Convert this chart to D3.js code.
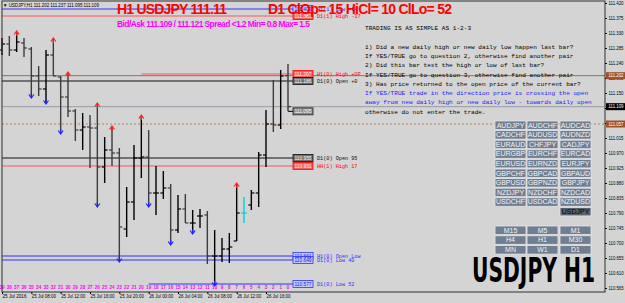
<!DOCTYPE html>
<html>
<head>
<meta charset="utf-8">
<script src="https://cdn.jsdelivr.net/npm/d3@7"></script>
<style>
  body { margin: 0; background: #d4d4d4; }
  svg { display: block; }
</style>
</head>
<body>
<div id="canvas"></div>
<script>
// bar numbers, oldest (39) to current (0)
const barNo = [39,38,37,36,35,34,33,32,31,30,29,28,27,26,25,24,23,22,21,20,19,18,17,16,15,14,13,12,11,10,9,8,7,6,5,4,3,2,1,0];
const opens  = [111.279,111.297,111.279,111.300,111.282,111.201,111.162,111.264,111.198,111.138,111.096,111.039,111.048,111.045,110.928,110.979,110.970,110.742,110.823,110.955,110.958,110.850,110.850,110.865,110.739,110.802,110.760,110.781,110.784,110.661,110.661,110.682,110.706,110.790,110.814,110.850,110.964,111.057,111.054,111.202];
const highs  = [111.315,111.321,111.330,111.315,111.288,111.231,111.279,111.309,111.201,111.207,111.102,111.090,111.084,111.114,111.018,111.045,110.985,110.868,110.994,111.078,111.039,110.931,110.916,110.877,110.844,110.847,110.799,110.802,110.796,110.739,110.715,110.730,110.874,110.838,110.859,110.973,111.099,111.189,111.219,111.237];
const lows   = [111.264,111.261,111.273,111.258,111.141,111.141,111.123,111.201,111.033,111.078,111.006,110.979,110.925,110.814,110.880,110.931,110.649,110.718,110.769,110.895,110.814,110.784,110.832,110.700,110.730,110.760,110.733,110.745,110.637,110.577,110.643,110.640,110.706,110.760,110.799,110.808,110.928,111.033,111.042,111.095];
const closes = [111.297,111.279,111.303,111.285,111.201,111.162,111.264,111.201,111.138,111.096,111.039,111.048,111.045,110.928,110.979,110.970,110.748,110.823,110.955,110.958,110.850,110.850,110.865,110.739,110.802,110.760,110.760,110.781,110.661,110.661,110.682,110.688,110.790,110.790,110.850,110.964,111.057,111.054,111.201,111.109];

const upArrowBars   = [37, 32, 30, 26, 24, 20, 7];
const downArrowBars = [35, 33, 31, 26, 23, 19, 16, 13, 10];
const cyanBar = 6;

const priceTicks = [111.420,111.375,111.330,111.285,111.240,111.195,111.150,111.105,111.060,111.015,110.970,110.925,110.880,110.835,110.790,110.745,110.700,110.655,110.610,110.565];
const dateBars   = [39, 35, 31, 27, 23, 19, 15, 11, 7, 3];
const dateLabels = ["25 Jul 2016","25 Jul 08:00","25 Jul 12:00","25 Jul 16:00","25 Jul 20:00","26 Jul 00:00","26 Jul 04:00","26 Jul 08:00","26 Jul 12:00","26 Jul 16:00"];

// level lines drawn to the label boxes
const levelPrices = [111.402, 111.381, 111.207, 111.186, 110.955, 110.931, 110.661, 110.649, 110.577];
const levelKinds  = ["low", "high", "high", "open", "open", "high", "low", "low", "low"];
const levelStart  = [39, 39, 20, 39, 39, 39, 39, 39, 19];
const levelNotes  = ["H1(1) Low -64", "D1(1) High -37", "H1(0) High +0P", "D1(0) Open +0", "D1(0) Open 95", "HH(1) High 17", "H1(0) Open Low", "D1(0) Low 40", "D1(0) Low 52"];

// full width lines
const bidPrice = 111.109, openPrice = 111.202, dottedPrice = 111.057;

const headerMain = "H1 USDJPY 111.11";
const headerD1 = "D1 ClOp= 15 HiCl= 10 ClLo= 52";
const headerSpread = "Bid/Ask 111.109 / 111.121  Spread <1.2 Min= 0.8 Max= 1.5";
const infoLine = "\u25BC USDJPY,H1  111.202 111.237 111.095 111.109";

const rules = [
  "TRADING IS AS SIMPLE AS 1-2-3",
  "",
  "1) Did a new daily high or new daily low happen last bar?",
  "If YES/TRUE go to question 2, otherwise find another pair",
  "2) Did this bar test the high or low of last bar?",
  "If YES/TRUE go to question 3, otherwise find another pair",
  "3) Has price returned to the open price of the current bar?",
  "If YES/TRUE trade in the direction price is crossing the open",
  "away from new daily high or new daily low - towards daily open",
  "otherwise do not enter the trade."
];
const blueRules = [7, 8];

const pairs = ["AUDJPY","AUDCHF","AUDCAD","CADCHF","AUDUSD","AUDNZD","EURAUD","CHFJPY","CADJPY","EURGBP","EURCHF","EURCAD","EURUSD","EURNZD","EURJPY","GBPCHF","GBPCAD","GBPAUD","GBPUSD","GBPNZD","GBPJPY","NZDJPY","NZDCHF","NZDCAD","USDCHF","USDCAD","NZDUSD"];
const currentPair = "USDJPY";
const timeframes = ["M15","M5","M1","H4","H1","M30","MN","W1","D1"];

const width = 625, height = 303;
const plot = { left: 2, top: 1, right: 605, bottom: 292 };
const colors = { high: "#ff0000", low: "#3030ff", open: "#101010" };

const svg = d3.select("#canvas").append("svg")
  .attr("width", width).attr("height", height)
  .style("font-family", "'Liberation Sans', Arial, sans-serif");

svg.append("rect").attr("width", width).attr("height", height).attr("fill", "#d4d4d4");

const x = d3.scaleLinear().domain([39, 0]).range([2, 288]);
const y = d3.scaleLinear().domain([110.565, 111.420]).range([288, 3]);

// full width lines
svg.append("line").attr("x1", plot.left).attr("x2", plot.right)
  .attr("y1", y(openPrice)).attr("y2", y(openPrice)).attr("stroke", "#9a7058").attr("stroke-width", 1);
svg.append("line").attr("x1", plot.left).attr("x2", plot.right)
  .attr("y1", y(bidPrice)).attr("y2", y(bidPrice)).attr("stroke", "#9c9ca8").attr("stroke-width", 1);
svg.append("line").attr("x1", plot.left).attr("x2", plot.right)
  .attr("y1", y(dottedPrice)).attr("y2", y(dottedPrice)).attr("stroke", "#b8825c")
  .attr("stroke-width", 1).attr("stroke-dasharray", "2,2");

// level lines + boxes + notes
const levels = levelPrices.map((p, i) => ({ p, kind: levelKinds[i], start: levelStart[i], note: levelNotes[i] }));
const lv = svg.append("g");
lv.selectAll("line").data(levels).enter().append("line")
  .attr("x1", d => x(d.start)).attr("x2", 293)
  .attr("y1", d => y(d.p)).attr("y2", d => y(d.p))
  .attr("stroke", d => d.kind === "high" ? "#f08080" : colors[d.kind])
  .attr("stroke-width", d => d.kind === "high" ? 1.5 : 1);
lv.selectAll("rect").data(levels).enter().append("rect")
  .attr("x", 293).attr("y", d => y(d.p) - 3.5).attr("width", 20).attr("height", 7)
  .attr("fill", d => d.kind === "high" ? "#f06060" : d.kind === "low" ? "#c8c8ff" : "#707070")
  .attr("stroke", d => colors[d.kind]).attr("stroke-width", 0.8);
lv.selectAll("text.box").data(levels).enter().append("text").attr("class", "box")
  .attr("x", 294.5).attr("y", d => y(d.p) + 1.8)
  .attr("font-size", 5).attr("textLength", 17).attr("lengthAdjust", "spacingAndGlyphs")
  .attr("fill", d => d.kind === "low" ? "#2020c0" : "#fff")
  .text(d => d.p.toFixed(3));
lv.selectAll("text.note").data(levels).enter().append("text").attr("class", "note")
  .attr("x", 317).attr("y", d => y(d.p) + 2)
  .attr("font-size", 5.2).attr("font-family", "'Liberation Mono', monospace")
  .attr("fill", d => colors[d.kind])
  .text(d => d.note);

// current low box
svg.append("line").attr("x1", x(0)).attr("x2", 293).attr("y1", y(lows[39])).attr("y2", y(lows[39])).attr("stroke", "#000");
svg.append("rect").attr("x", 293).attr("y", y(lows[39]) - 3.5).attr("width", 20).attr("height", 7)
  .attr("fill", "#8a8a8a").attr("stroke", "#222").attr("stroke-width", 0.8);
svg.append("text").attr("x", 294.5).attr("y", y(lows[39]) + 1.8)
  .attr("font-size", 5).attr("textLength", 17).attr("lengthAdjust", "spacingAndGlyphs")
  .attr("fill", "#fff").text(lows[39].toFixed(3));

// OHLC bars
const bars = barNo.map((b, i) => ({ b, o: opens[i], h: highs[i], l: lows[i], c: closes[i] }));
const bg = svg.append("g");
const barColor = d => d.b === cyanBar ? "#00d0e0" : (d.c >= d.o ? "#000" : "#3c3c3c");
bg.selectAll("line.hl").data(bars).enter().append("line").attr("class", "hl")
  .attr("x1", d => x(d.b)).attr("x2", d => x(d.b))
  .attr("y1", d => y(d.h)).attr("y2", d => y(d.l))
  .attr("stroke", barColor).attr("stroke-width", 1.4);
bg.selectAll("line.o").data(bars).enter().append("line").attr("class", "o")
  .attr("x1", d => x(d.b) - 3).attr("x2", d => x(d.b))
  .attr("y1", d => y(d.o)).attr("y2", d => y(d.o))
  .attr("stroke", barColor).attr("stroke-width", 1.2);
bg.selectAll("line.c").data(bars).enter().append("line").attr("class", "c")
  .attr("x1", d => x(d.b)).attr("x2", d => x(d.b) + 3)
  .attr("y1", d => y(d.c)).attr("y2", d => y(d.c))
  .attr("stroke", barColor).attr("stroke-width", 1.2);

// arrows
const barAt = b => bars.find(d => d.b === b);
bg.selectAll("path.up").data(upArrowBars).enter().append("path").attr("class", "up")
  .attr("d", b => {
    const cx = x(b), cy = y(barAt(b).h) - 1;
    return `M${cx - 2.5},${cy + 2.5} L${cx},${cy - 1} L${cx + 2.5},${cy + 2.5} M${cx},${cy - 1} L${cx},${cy + 4}`;
  })
  .attr("fill", "none").attr("stroke", "#ff2020").attr("stroke-width", 1.2);
bg.selectAll("path.down").data(downArrowBars).enter().append("path").attr("class", "down")
  .attr("d", b => {
    const cx = x(b), cy = y(barAt(b).l) + 1;
    return `M${cx - 2.5},${cy - 2.5} L${cx},${cy + 1} L${cx + 2.5},${cy - 2.5} M${cx},${cy + 1} L${cx},${cy - 4}`;
  })
  .attr("fill", "none").attr("stroke", "#2020ff").attr("stroke-width", 1.2);

// bar numbers
svg.append("g").selectAll("text").data(barNo).enter().append("text")
  .attr("x", d => x(d)).attr("y", 289).attr("text-anchor", "middle")
  .attr("font-size", 4.6).attr("font-weight", "bold").attr("fill", "#ff00ff")
  .text(d => d);

// frame
svg.append("rect").attr("x", plot.left).attr("y", plot.top)
  .attr("width", plot.right - plot.left).attr("height", plot.bottom - plot.top)
  .attr("fill", "none").attr("stroke", "#303030").attr("stroke-width", 1);

// axes
const yAxis = svg.append("g").attr("transform", `translate(${plot.right},0)`)
  .call(d3.axisRight(y).tickValues(priceTicks).tickSize(2).tickFormat(d3.format(".3f")));
yAxis.select(".domain").remove();
yAxis.selectAll("text").attr("font-size", 4.8).attr("x", 3.5).attr("fill", "#000")
  .attr("textLength", 15).attr("lengthAdjust", "spacingAndGlyphs");
yAxis.selectAll("line").attr("stroke", "#000");

const xAxis = svg.append("g").attr("transform", `translate(0,${plot.bottom})`)
  .call(d3.axisBottom(x).tickValues(dateBars).tickSize(2).tickFormat((d, i) => dateLabels[i]));
xAxis.select(".domain").remove();
xAxis.selectAll("text").attr("font-size", 4.8).attr("text-anchor", "start").attr("y", 3).attr("fill", "#000")
  .attr("textLength", 24).attr("lengthAdjust", "spacingAndGlyphs");
xAxis.selectAll("line").attr("stroke", "#000");

// highlighted price labels on the axis
const tags = [{ p: openPrice, fill: "#a0522d" }, { p: bidPrice, fill: "#000" }, { p: dottedPrice, fill: "#a0522d" }];
svg.append("g").selectAll("g").data(tags).enter().append("g").each(function (d) {
  const g = d3.select(this);
  g.append("rect").attr("x", 606).attr("y", y(d.p) - 3.5).attr("width", 19).attr("height", 7).attr("fill", d.fill);
  g.append("text").attr("x", 608.5).attr("y", y(d.p) + 1.8).attr("font-size", 4.8).attr("fill", "#fff")
    .attr("textLength", 15).attr("lengthAdjust", "spacingAndGlyphs").text(d.p.toFixed(3));
});

// header texts
svg.append("text").attr("x", 3).attr("y", 6.5).attr("font-size", 5).attr("fill", "#000")
  .attr("textLength", 96).attr("lengthAdjust", "spacingAndGlyphs").text(infoLine);
svg.append("text").attr("x", 117).attr("y", 14).attr("font-size", 14).attr("font-weight", "bold")
  .attr("fill", "#ff0000").attr("textLength", 110).text(headerMain);
svg.append("text").attr("x", 268).attr("y", 14).attr("font-size", 14).attr("font-weight", "bold")
  .attr("fill", "#ff0000").attr("textLength", 184).text(headerD1);
svg.append("text").attr("x", 117).attr("y", 27).attr("font-size", 8.5).attr("font-weight", "bold")
  .attr("fill", "#ff00ff").attr("textLength", 193).text(headerSpread);

// rules text block
svg.append("g").selectAll("text").data(rules).enter().append("text")
  .attr("x", 365).attr("y", (d, i) => 30 + i * 9.3)
  .attr("font-size", 6.1).attr("font-family", "'Liberation Mono', 'Courier New', monospace")
  .attr("fill", (d, i) => blueRules.includes(i) ? "#1c1cff" : "#000")
  .attr("xml:space", "preserve")
  .text(d => d);

// buttons
const colX = [495, 527, 560], btnW = 31, btnH = 8.5;
const button = (g, label, bx, by, dark) => {
  g.append("rect").attr("x", bx).attr("y", by).attr("width", btnW).attr("height", btnH)
    .attr("fill", dark ? "#58626f" : "#6f7e90").attr("stroke", "#e6e6e6").attr("stroke-width", 0.8);
  g.append("text").attr("x", bx + btnW / 2).attr("y", by + 6.6).attr("text-anchor", "middle")
    .attr("font-size", 7).attr("fill", dark ? "#000" : "#f4f4f4").text(label);
};
const btns = svg.append("g");
pairs.forEach((p, i) => button(btns, p, colX[i % 3], 121 + Math.floor(i / 3) * 9.6, false));
button(btns, currentPair, colX[2], 121 + 9 * 9.6, true);
timeframes.forEach((t, i) => button(btns, t, colX[i % 3], 226 + Math.floor(i / 3) * 9.8, false));

// big symbol text
svg.append("text").attr("x", 472).attr("y", 282).attr("font-size", 33).attr("font-weight", "bold")
  .attr("font-family", "'Liberation Sans Narrow', 'DejaVu Sans Condensed', Arial, sans-serif")
  .attr("fill", "#000").attr("textLength", 123).attr("lengthAdjust", "spacingAndGlyphs")
  .text("USDJPY H1");
</script>
</body>
</html>
